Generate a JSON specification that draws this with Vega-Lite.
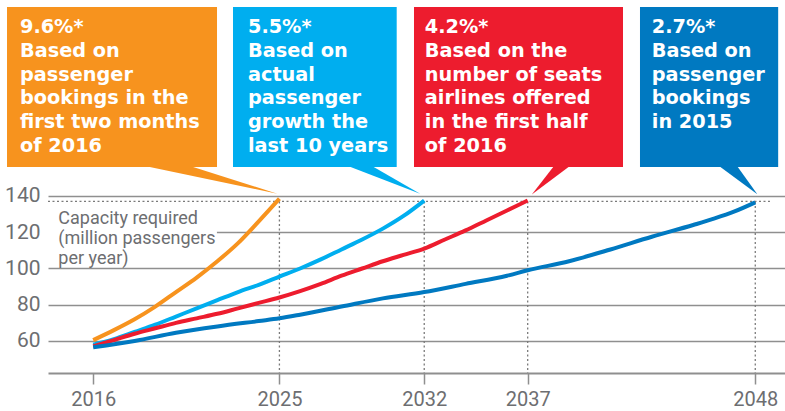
{
  "$schema": "https://vega.github.io/schema/vega-lite/v6.json",
  "width": 737,
  "height": 373,
  "autosize": "none",
  "padding": {"left": 48, "top": 0, "right": 0, "bottom": 38},
  "background": "white",
  "config": {"view": {"stroke": null}, "font": "Roboto"},
  "datasets": {
    "lines": [
      {"series": "9.6%", "year": 2016, "value": 60.5},
      {"series": "9.6%", "year": 2017, "value": 66},
      {"series": "9.6%", "year": 2018, "value": 72},
      {"series": "9.6%", "year": 2019, "value": 79},
      {"series": "9.6%", "year": 2020, "value": 87},
      {"series": "9.6%", "year": 2021, "value": 95},
      {"series": "9.6%", "year": 2022, "value": 104},
      {"series": "9.6%", "year": 2023, "value": 114},
      {"series": "9.6%", "year": 2024, "value": 126},
      {"series": "9.6%", "year": 2025, "value": 138.5},
      {"series": "5.5%", "year": 2016, "value": 58},
      {"series": "5.5%", "year": 2017, "value": 61},
      {"series": "5.5%", "year": 2018, "value": 65},
      {"series": "5.5%", "year": 2019, "value": 69},
      {"series": "5.5%", "year": 2020, "value": 73.5},
      {"series": "5.5%", "year": 2021, "value": 78},
      {"series": "5.5%", "year": 2022, "value": 82.5},
      {"series": "5.5%", "year": 2023, "value": 87},
      {"series": "5.5%", "year": 2024, "value": 91},
      {"series": "5.5%", "year": 2025, "value": 95.5},
      {"series": "5.5%", "year": 2026, "value": 100},
      {"series": "5.5%", "year": 2027, "value": 105},
      {"series": "5.5%", "year": 2028, "value": 110.5},
      {"series": "5.5%", "year": 2029, "value": 116},
      {"series": "5.5%", "year": 2030, "value": 122},
      {"series": "5.5%", "year": 2031, "value": 129},
      {"series": "5.5%", "year": 2032, "value": 137.5},
      {"series": "4.2%", "year": 2016, "value": 57},
      {"series": "4.2%", "year": 2017, "value": 60.5},
      {"series": "4.2%", "year": 2018, "value": 64},
      {"series": "4.2%", "year": 2019, "value": 67},
      {"series": "4.2%", "year": 2020, "value": 70},
      {"series": "4.2%", "year": 2021, "value": 72.5},
      {"series": "4.2%", "year": 2022, "value": 75},
      {"series": "4.2%", "year": 2023, "value": 78},
      {"series": "4.2%", "year": 2024, "value": 81},
      {"series": "4.2%", "year": 2025, "value": 84},
      {"series": "4.2%", "year": 2026, "value": 87.5},
      {"series": "4.2%", "year": 2027, "value": 91.5},
      {"series": "4.2%", "year": 2028, "value": 96},
      {"series": "4.2%", "year": 2029, "value": 100},
      {"series": "4.2%", "year": 2030, "value": 104},
      {"series": "4.2%", "year": 2031, "value": 107.5},
      {"series": "4.2%", "year": 2032, "value": 111},
      {"series": "4.2%", "year": 2033, "value": 116},
      {"series": "4.2%", "year": 2034, "value": 121},
      {"series": "4.2%", "year": 2035, "value": 126.5},
      {"series": "4.2%", "year": 2036, "value": 132},
      {"series": "4.2%", "year": 2037, "value": 137.5},
      {"series": "2.7%", "year": 2016, "value": 56.5},
      {"series": "2.7%", "year": 2018, "value": 60},
      {"series": "2.7%", "year": 2020, "value": 64.5},
      {"series": "2.7%", "year": 2022, "value": 68},
      {"series": "2.7%", "year": 2024, "value": 71},
      {"series": "2.7%", "year": 2025, "value": 72.5},
      {"series": "2.7%", "year": 2026, "value": 74.5},
      {"series": "2.7%", "year": 2028, "value": 79},
      {"series": "2.7%", "year": 2030, "value": 83.5},
      {"series": "2.7%", "year": 2032, "value": 87},
      {"series": "2.7%", "year": 2034, "value": 91.5},
      {"series": "2.7%", "year": 2036, "value": 96},
      {"series": "2.7%", "year": 2037, "value": 99},
      {"series": "2.7%", "year": 2039, "value": 104},
      {"series": "2.7%", "year": 2041, "value": 110.5},
      {"series": "2.7%", "year": 2043, "value": 117.5},
      {"series": "2.7%", "year": 2045, "value": 124},
      {"series": "2.7%", "year": 2046, "value": 127.5},
      {"series": "2.7%", "year": 2047, "value": 131.5},
      {"series": "2.7%", "year": 2048, "value": 136.5}
    ],
    "reach": [
      {"year": 2025}, {"year": 2032}, {"year": 2037}, {"year": 2048}
    ],
    "boxes": [
      {"series": "9.6%", "year": 2011.834, "year2": 2021.984, "value": 244.28, "value2": 156.0},
      {"series": "5.5%", "year": 2022.757, "year2": 2030.669, "value": 244.28, "value2": 156.0},
      {"series": "4.2%", "year": 2031.505, "year2": 2041.607, "value": 244.28, "value2": 156.0},
      {"series": "2.7%", "year": 2042.428, "year2": 2049.107, "value": 244.28, "value2": 156.0}
    ],
    "pointers": [
      {"series": "9.6%", "i": 1, "year": 2018.504, "value": 156.5},
      {"series": "9.6%", "i": 2, "year": 2020.678, "value": 156.5},
      {"series": "9.6%", "i": 3, "year": 2024.9, "value": 141.3},
      {"series": "5.5%", "i": 1, "year": 2028.314, "value": 156.5},
      {"series": "5.5%", "i": 2, "year": 2029.474, "value": 156.5},
      {"series": "5.5%", "i": 3, "year": 2031.8, "value": 141.3},
      {"series": "4.2%", "i": 1, "year": 2038.27, "value": 156.5},
      {"series": "4.2%", "i": 2, "year": 2039.04, "value": 156.5},
      {"series": "4.2%", "i": 3, "year": 2037.2, "value": 140.8},
      {"series": "2.7%", "i": 1, "year": 2046.25, "value": 156.5},
      {"series": "2.7%", "i": 2, "year": 2047.12, "value": 156.5},
      {"series": "2.7%", "i": 3, "year": 2048.1, "value": 141.0}
    ],
    "callouts": [
      {"series": "9.6%", "year": 2012.46, "value": 229.77, "text": "9.6%*\nBased on\npassenger\nbookings in the\nfirst two months\nof 2016"},
      {"series": "5.5%", "year": 2023.48, "value": 229.77, "text": "5.5%*\nBased on\nactual\npassenger\ngrowth the\nlast 10 years"},
      {"series": "4.2%", "year": 2032.03, "value": 229.77, "text": "4.2%*\nBased on the\nnumber of seats\nairlines offered\nin the first half\nof 2016"},
      {"series": "2.7%", "year": 2043.0, "value": 229.77, "text": "2.7%*\nBased on\npassenger\nbookings\nin 2015"}
    ],
    "note": [
      {"year": 2014.313, "value": 124.55, "text": "Capacity required\n(million passengers\nper year)", "left": 2013.815, "right": 2021.98, "top": 135.5, "bottom": 107.4}
    ]
  },
  "layer": [
    {
      "data": {"name": "reach"},
      "mark": {"type": "rule", "stroke": "#7a7a7a", "strokeWidth": 1.3, "strokeDash": [2, 2.5]},
      "encoding": {
        "x": {
          "field": "year", "type": "quantitative",
          "scale": {"domain": [2013.815, 2049.437], "nice": false, "zero": false},
          "axis": {
            "values": [2016, 2025, 2032, 2037, 2048], "format": "d", "title": null, "grid": false,
            "domainColor": "#8f8f8f", "domainWidth": 2, "tickColor": "#8f8f8f", "tickWidth": 1.5, "tickSize": 11,
            "labelFont": "Roboto", "labelFontSize": 20, "labelColor": "#6d6e71", "labelBaseline": "alphabetic", "labelPadding": 21
          }
        },
        "y": {
          "datum": 137, "type": "quantitative",
          "scale": {"domain": [42.34, 248.14], "nice": false, "zero": false},
          "axis": {
            "values": [60, 80, 100, 120, 140], "title": null, "grid": true, "gridColor": "#8f8f8f", "gridWidth": 1.5,
            "domain": false, "ticks": false, "labelFont": "Roboto", "labelFontSize": 21, "labelColor": "#6d6e71", "labelPadding": 8
          }
        },
        "y2": {"datum": 42.34}
      }
    },
    {
      "data": {"name": "note"},
      "mark": {"type": "rect", "fill": "white"},
      "encoding": {
        "x": {"field": "left", "type": "quantitative", "title": null},
        "x2": {"field": "right"},
        "y": {"field": "top", "type": "quantitative", "title": null},
        "y2": {"field": "bottom"}
      }
    },
    {
      "data": {"values": [{"a": 1}]},
      "mark": {"type": "rule", "stroke": "#7a7a7a", "strokeWidth": 1.3, "strokeDash": [2, 2.5]},
      "encoding": {
        "x": {"datum": 2013.815, "type": "quantitative", "title": null},
        "x2": {"datum": 2048.71},
        "y": {"datum": 137, "type": "quantitative", "title": null}
      }
    },
    {
      "data": {"name": "note"},
      "mark": {"type": "text", "align": "left", "baseline": "alphabetic", "font": "Roboto", "fontSize": 18, "lineBreak": "\n", "lineHeight": 19.8, "fill": "#6d6e71"},
      "encoding": {
        "x": {"field": "year", "type": "quantitative", "title": null},
        "y": {"field": "value", "type": "quantitative", "title": null},
        "text": {"field": "text"}
      }
    },
    {
      "data": {"name": "lines"},
      "mark": {"type": "line", "strokeWidth": 4, "interpolate": "monotone"},
      "encoding": {
        "x": {"field": "year", "type": "quantitative", "title": null},
        "y": {"field": "value", "type": "quantitative", "title": null},
        "color": {
          "field": "series", "type": "nominal", "legend": null,
          "scale": {"domain": ["9.6%", "5.5%", "4.2%", "2.7%"], "range": ["#F7931E", "#00AEEF", "#ED1C2E", "#0079C1"]}
        },
        "order": {"field": "year"}
      }
    },
    {
      "data": {"name": "pointers"},
      "mark": {"type": "line", "filled": true, "strokeWidth": 0},
      "encoding": {
        "x": {"field": "year", "type": "quantitative", "title": null},
        "y": {"field": "value", "type": "quantitative", "title": null},
        "color": {"field": "series", "type": "nominal", "legend": null},
        "order": {"field": "i"}
      }
    },
    {
      "data": {"name": "boxes"},
      "mark": {"type": "rect"},
      "encoding": {
        "x": {"field": "year", "type": "quantitative", "title": null},
        "x2": {"field": "year2"},
        "y": {"field": "value", "type": "quantitative", "title": null},
        "y2": {"field": "value2"},
        "color": {"field": "series", "type": "nominal", "legend": null}
      }
    },
    {
      "data": {"name": "callouts"},
      "mark": {"type": "text", "align": "left", "baseline": "alphabetic", "font": "DejaVu Sans", "fontSize": 19.3, "fontWeight": "bold", "lineBreak": "\n", "lineHeight": 23.7, "fill": "white"},
      "encoding": {
        "x": {"field": "year", "type": "quantitative", "title": null},
        "y": {"field": "value", "type": "quantitative", "title": null},
        "text": {"field": "text"}
      }
    }
  ]
}
